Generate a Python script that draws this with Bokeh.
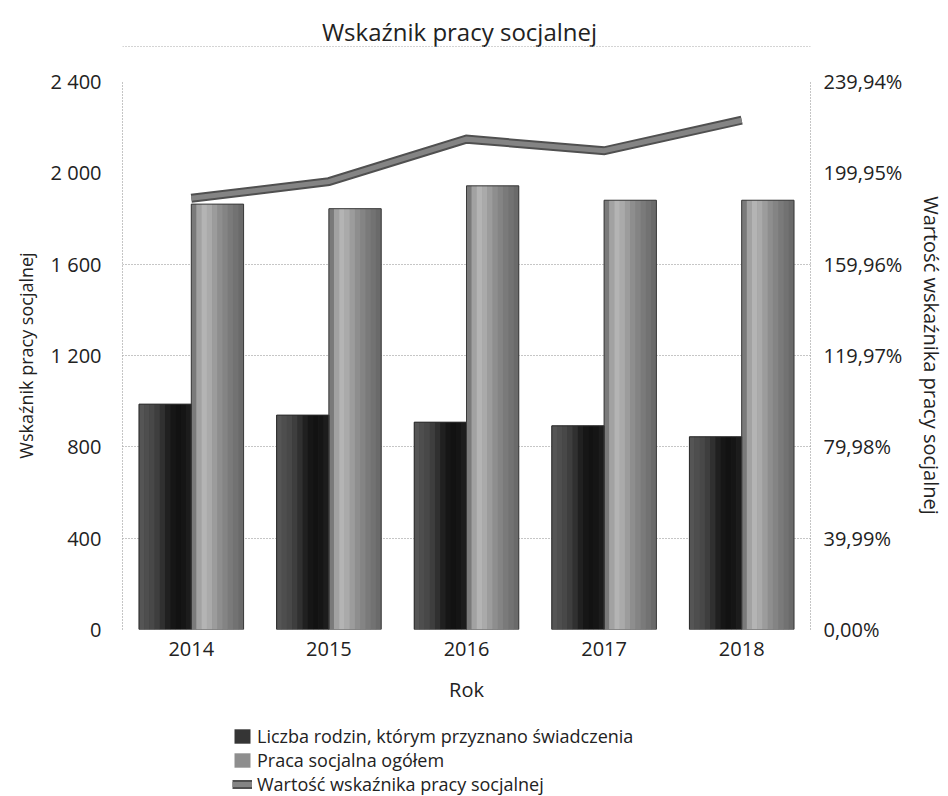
from bokeh.plotting import figure
from bokeh.layouts import column
from bokeh.models import (FactorRange, Range1d, LinearAxis, FixedTicker, Legend,
                          LegendItem, ColumnDataSource, Label, Span)
from bokeh.transform import dodge
from bokeh.embed import file_html
from bokeh.resources import INLINE

# ---- data ----
years = ["2014", "2015", "2016", "2017", "2018"]
rodziny = [987, 939, 908, 892, 844]            # Liczba rodzin, którym przyznano świadczenia
praca = [1863, 1843, 1943, 1880, 1880]          # Praca socjalna ogółem
wskaznik = [188.8, 196.1, 214.7, 209.6, 223.0]  # Wartość wskaźnika pracy socjalnej (%)

left_ticks = [0, 400, 800, 1200, 1600, 2000, 2400]
left_labels = ["0", "400", "800", "1 200", "1 600", "2 000", "2 400"]
grid_ticks = [400, 800, 1200, 1600, 2400]
right_ticks = [0, 39.99, 79.98, 119.97, 159.96, 199.95, 239.94]
right_labels = ["0,00%", "39,99%", "79,98%", "119,97%", "159,96%", "199,95%", "239,94%"]

title_text = "Wskaźnik pracy socjalnej"
series_names = ["Liczba rodzin, którym przyznano świadczenia",
                "Praca socjalna ogółem",
                "Wartość wskaźnika pracy socjalnej"]

FONT = "Open Sans"
TXT = "#222222"
DARK_AVG, LIGHT_AVG = "#353535", "#8e8e8e"
LINE_OUT, LINE_IN = "#505050", "#848484"

src = ColumnDataSource(dict(year=years, rodziny=rodziny, praca=praca, wsk=wskaznik))

# ---- title strip ----
ts = figure(width=948, height=50, x_range=Range1d(0, 1), y_range=Range1d(0, 1),
            output_backend="svg", toolbar_location=None, min_border=0,
            x_axis_type=None, y_axis_type=None)
ts.outline_line_color = None
ts.grid.visible = False
ts.add_layout(Label(x=337, y=19, x_units="screen", y_units="screen", text=title_text,
                    text_align="center", text_baseline="middle",
                    text_font=FONT, text_font_size="24px", text_color=TXT))
ts.add_layout(Span(location=0.08, dimension="width", line_color="#a8a8a8",
                   line_dash="1 2", line_width=1))

# ---- main chart ----
p = figure(x_range=FactorRange(*years), y_range=Range1d(0, 2400),
           width=948, height=662, output_backend="svg", toolbar_location=None,
           min_border_left=122, min_border_right=136, min_border_top=31,
           min_border_bottom=83)
p.extra_y_ranges = {"pct": Range1d(0, 239.94)}
p.outline_line_color = None
p.background_fill_color = "white"

# bars, drawn as vertical slices to imitate the shaded cylinders
BW = 0.38
dark_cols = ["#555555", "#4e4e4e", "#484848", "#3e3e3e", "#303030",
             "#202020", "#161616", "#121212", "#151515", "#1c1c1c"]
light_cols = ["#7a7a7a", "#a2a2a2", "#b4b4b4", "#aaaaaa", "#9c9c9c",
              "#8e8e8e", "#848484", "#7a7a7a", "#727272", "#6a6a6a"]
N = len(dark_cols)

p.vbar(x=dodge("year", -BW / 2, range=p.x_range), top="rodziny", width=BW,
       source=src, fill_color=DARK_AVG, line_color=None)
p.vbar(x=dodge("year", BW / 2, range=p.x_range), top="praca", width=BW,
       source=src, fill_color=LIGHT_AVG, line_color=None)
sw = BW / N
for i in range(N):
    off = -BW + (i + 0.5) * sw
    p.vbar(x=dodge("year", off, range=p.x_range), top="rodziny", width=sw * 1.06,
           source=src, fill_color=dark_cols[i], line_color=None)
    p.vbar(x=dodge("year", off + BW, range=p.x_range), top="praca", width=sw * 1.06,
           source=src, fill_color=light_cols[i], line_color=None)
p.vbar(x=dodge("year", -BW / 2, range=p.x_range), top="rodziny", width=BW,
       source=src, fill_color=None, line_color="#2a2a2a", line_width=1)
p.vbar(x=dodge("year", BW / 2, range=p.x_range), top="praca", width=BW,
       source=src, fill_color=None, line_color="#3a3a3a", line_width=1)

# line on the secondary axis
p.line(x="year", y="wsk", source=src, y_range_name="pct",
       line_width=9, line_color=LINE_OUT, line_cap="butt", line_join="miter")
p.line(x="year", y="wsk", source=src, y_range_name="pct",
       line_width=5, line_color=LINE_IN, line_cap="butt", line_join="miter")

# grid
p.xgrid.visible = False
p.ygrid.ticker = FixedTicker(ticks=grid_ticks)
p.ygrid.grid_line_color = "#8c8c8c"
p.ygrid.grid_line_dash = "1 2"
p.ygrid.grid_line_width = 1

# x axis
xa = p.xaxis[0]
xa.axis_label = "Rok"
xa.axis_line_color = None
xa.major_tick_line_color = None
xa.minor_tick_line_color = None
xa.major_label_standoff = 6
xa.axis_label_standoff = 17
xa.major_label_text_font = FONT
xa.major_label_text_font_size = "20px"
xa.major_label_text_color = TXT
xa.axis_label_text_font = FONT
xa.axis_label_text_font_size = "20px"
xa.axis_label_text_font_style = "normal"
xa.axis_label_text_color = TXT

# left axis
ya = p.yaxis[0]
ya.ticker = FixedTicker(ticks=left_ticks)
ya.major_label_overrides = dict(zip(left_ticks, left_labels))
ya.axis_label = "Wskaźnik pracy socjalnej"
ya.axis_line_color = "#8a8a8a"
ya.axis_line_dash = "1 2"
ya.major_tick_line_color = None
ya.minor_tick_line_color = None
ya.major_label_standoff = 15
ya.axis_label_standoff = 10
ya.major_label_text_font = FONT
ya.major_label_text_font_size = "20px"
ya.major_label_text_color = TXT
ya.axis_label_text_font = FONT
ya.axis_label_text_font_size = "18px"
ya.axis_label_text_font_style = "normal"
ya.axis_label_text_color = TXT

# right axis
ra = LinearAxis(y_range_name="pct", ticker=FixedTicker(ticks=right_ticks),
                major_label_overrides=dict(zip(right_ticks, right_labels)),
                axis_label="Wartość wskaźnika pracy socjalnej")
ra.axis_line_color = "#8a8a8a"
ra.axis_line_dash = "1 2"
ra.major_tick_line_color = None
ra.minor_tick_line_color = None
ra.major_label_standoff = 7
ra.axis_label_standoff = 13
ra.major_label_text_font = FONT
ra.major_label_text_font_size = "20px"
ra.major_label_text_color = TXT
ra.axis_label_text_font = FONT
ra.axis_label_text_font_size = "20px"
ra.axis_label_text_font_style = "normal"
ra.axis_label_text_color = TXT
p.add_layout(ra, "right")

# ---- legend strip below the chart (its renderers are hidden) ----
lg = figure(width=948, height=84, x_range=FactorRange(*years), y_range=Range1d(-10, -5),
            output_backend="svg", toolbar_location=None, min_border=0,
            x_axis_type=None, y_axis_type=None)
lg.outline_line_color = None
lg.grid.visible = False
l_dark = lg.vbar(x="year", top="rodziny", width=0.3, source=src,
                 fill_color=DARK_AVG, line_color=None, visible=False)
l_light = lg.vbar(x="year", top="praca", width=0.3, source=src,
                  fill_color=LIGHT_AVG, line_color=None, visible=False)
l_lo = lg.line(x="year", y="wsk", source=src, line_width=9, line_color=LINE_OUT,
               line_cap="butt", visible=False)
l_li = lg.line(x="year", y="wsk", source=src, line_width=5, line_color=LINE_IN,
               line_cap="butt", visible=False)

legend = Legend(items=[LegendItem(label=series_names[0], renderers=[l_dark]),
                       LegendItem(label=series_names[1], renderers=[l_light]),
                       LegendItem(label=series_names[2], renderers=[l_lo, l_li])],
                location=(110, 0), orientation="vertical",
                padding=0, margin=0, spacing=-1,
                glyph_width=20, glyph_height=18, label_height=18, label_standoff=5,
                label_text_font=FONT, label_text_font_size="18px",
                label_text_color=TXT, inactive_fill_alpha=0,
                border_line_color=None, background_fill_alpha=0)
lg.add_layout(legend, "center")

layout = column(ts, p, lg, spacing=0)
open("out.html", "w").write(file_html(layout, INLINE))
